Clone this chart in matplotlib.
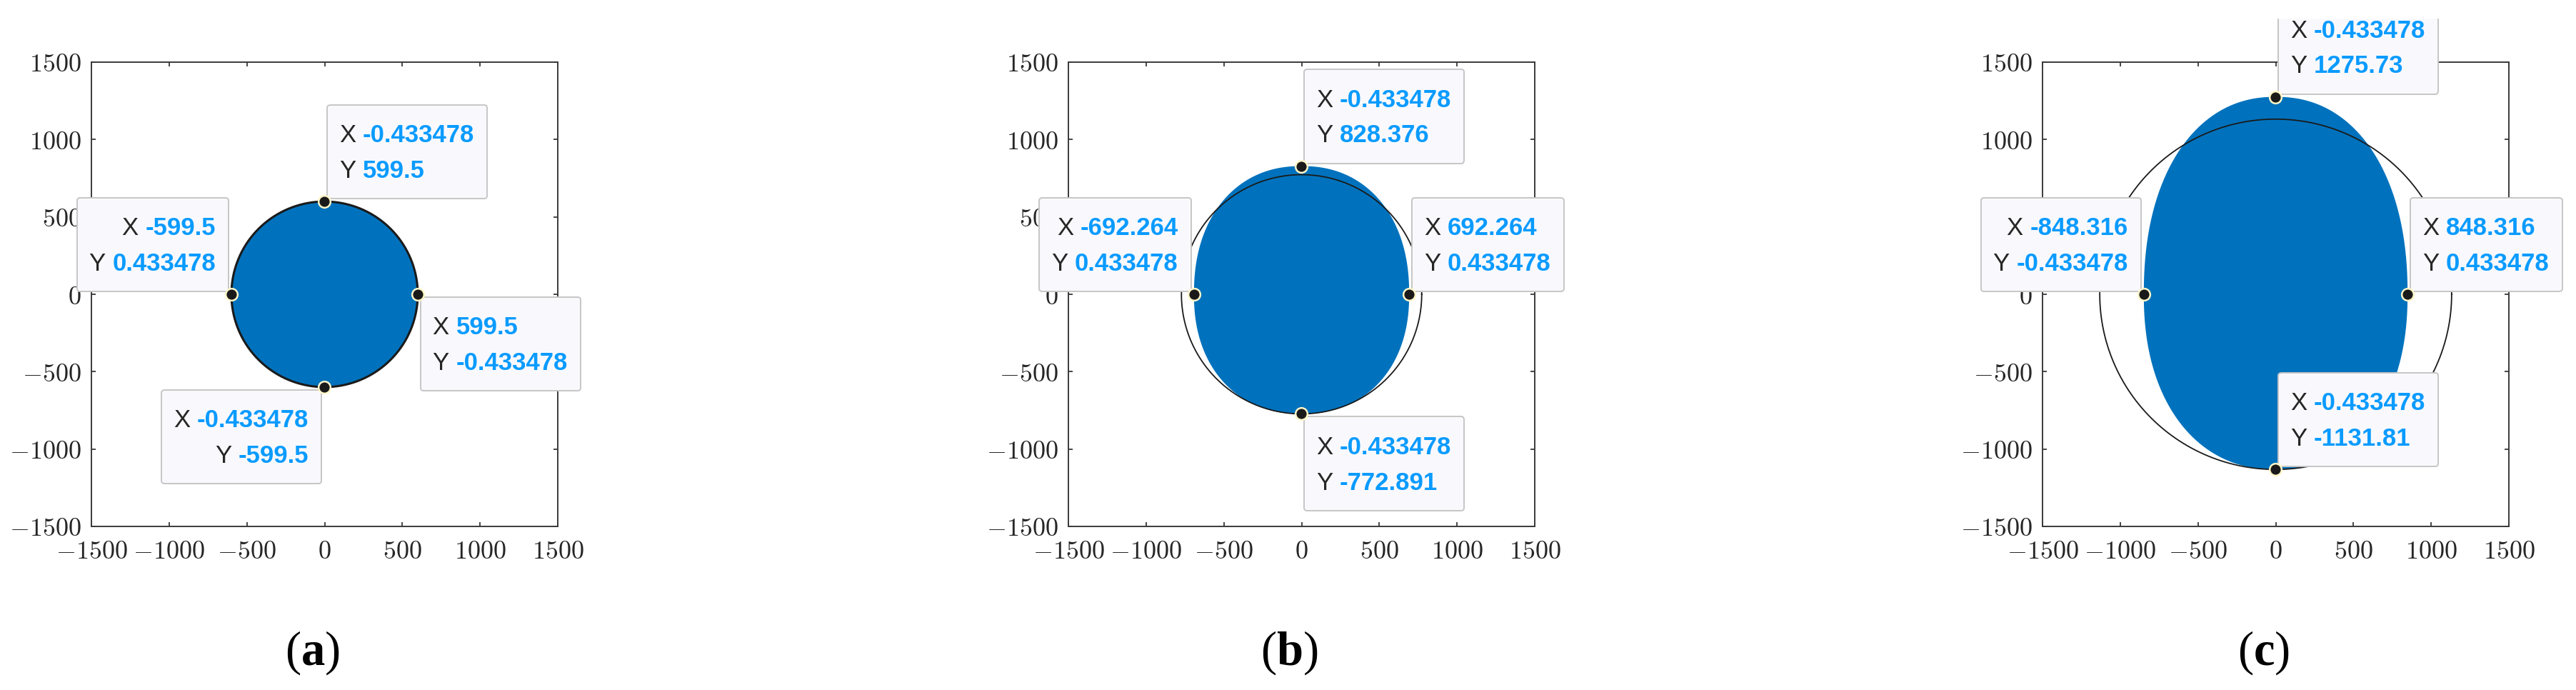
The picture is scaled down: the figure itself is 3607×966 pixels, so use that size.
import numpy as np
import matplotlib
matplotlib.use('Agg')
from matplotlib import pyplot as plt
from matplotlib.offsetbox import TextArea, HPacker, VPacker, AnnotationBbox, DrawingArea
from matplotlib.patches import Rectangle

plt.rcParams['mathtext.fontset'] = 'cm'
plt.rcParams['mathtext.rm'] = 'Liberation Serif'
plt.rcParams['mathtext.bf'] = 'Liberation Serif:bold'

# values
panel_labels = ['a', 'b', 'c']
circle_r = [599.5, 772.891, 1131.81]
shape_half_w = [599.5, 692.264, 848.316]
shape_top = [599.5, 828.376, 1275.73]
shape_bottom = [-599.5, -772.891, -1131.81]

# data tips per panel: top, left, right, bottom
tip_x = [[-0.433478, -599.5, 599.5, -0.433478],
         [-0.433478, -692.264, 692.264, -0.433478],
         [-0.433478, -848.316, 848.316, -0.433478]]
tip_y = [[599.5, 0.433478, -0.433478, -599.5],
         [828.376, 0.433478, 0.433478, -772.891],
         [1275.73, -0.433478, 0.433478, -1131.81]]

ticks = [-1500, -1000, -500, 0, 500, 1000, 1500]

# layout / style
W, H = 3607, 966
axes_left = [128, 1496, 2860]
ax_w, ax_top, ax_bot = 653, 87, 737
shape_exp = [2.0, 2.2, 2.2]
circle_lw = [2.2, 1.3, 1.3]
# which corner of the tip box sits on the point
tip_corner = [[(0, 0), (1, 0), (0, 1), (1, 1)],
              [(0, 0), (1, 0), (0, 0), (0, 1)],
              [(0, 0), (1, 0), (0, 0), (0, 0)]]

BLUE = '#0072BD'
TIP_BLUE = '#0A9BFF'
DARK = '#262626'
TIP_FS = 25


def add_tip(ax, x, y, corner):
    align = 'right' if corner[0] == 1 else 'left'
    rows = []
    for lab, val in (('X', x), ('Y', y)):
        rows.append(HPacker(children=[
            TextArea(lab, textprops=dict(color=DARK, size=TIP_FS, family='Liberation Sans')),
            TextArea(f'{val:g}', textprops=dict(color=TIP_BLUE, size=TIP_FS, weight='bold',
                                                 family='Liberation Sans'))],
            align='baseline', pad=0, sep=7))
    col = VPacker(children=[DrawingArea(0, 19), rows[0], DrawingArea(0, 12), rows[1],
                            DrawingArea(0, 16)], align=align, pad=0, sep=0)
    box = HPacker(children=[DrawingArea(12, 0), col, DrawingArea(13, 0)],
                  align='center', pad=0, sep=0)
    dx = 4 if corner[0] == 0 else -4
    dy = 4 if corner[1] == 0 else -4
    ab = AnnotationBbox(box, (x, y), xybox=(dx, dy), boxcoords='offset pixels',
                        box_alignment=corner, frameon=True, annotation_clip=False,
                        bboxprops=dict(boxstyle='round,pad=0,rounding_size=0.3',
                                       fc='#F9F9FD', ec='#C6C6C6', lw=1.4),
                        zorder=10)
    ax.add_artist(ab)


fig = plt.figure(figsize=(W / 100, H / 100), dpi=100)

t = np.linspace(0, 2 * np.pi, 721)
for i in range(3):
    ax = fig.add_axes([axes_left[i] / W, 1 - ax_bot / H, ax_w / W, (ax_bot - ax_top) / H])

    # deformed body
    c, s = np.cos(t), np.sin(t)
    p = 2 / shape_exp[i]
    sx = shape_half_w[i] * np.sign(c) * np.abs(c) ** p
    sy = np.where(s >= 0, shape_top[i], -shape_bottom[i]) * np.sign(s) * np.abs(s) ** p
    ax.fill(sx, sy, color=BLUE, lw=0, zorder=2)

    # reference circle
    ax.plot(circle_r[i] * c, circle_r[i] * s, color='#1A1A1A', lw=circle_lw[i], zorder=3)

    for j in range(4):
        add_tip(ax, tip_x[i][j], tip_y[i][j], tip_corner[i][j])
    ax.plot(tip_x[i], tip_y[i], 'o', ms=12, mfc='#1A1A1A', mec='#FFF6C8', mew=1.8,
            zorder=12, clip_on=False)

    ax.set_xlim(-1500, 1500)
    ax.set_ylim(-1500, 1500)
    labels = [f'${v}$' for v in ticks]
    ax.set_xticks(ticks, labels)
    ax.set_yticks(ticks, labels)
    ax.tick_params(direction='in', length=4, width=1.2, top=True, right=True,
                   labelsize=26, labelcolor=DARK, color=DARK)
    ax.tick_params(axis='x', pad=13)
    ax.tick_params(axis='y', pad=10)
    for sp in ax.spines.values():
        sp.set_color('#3A3A3A')
        sp.set_linewidth(1.4)

    cx = (axes_left[i] + ax_w / 2 - 17) / W
    fig.text(cx, 1 - 914 / H, f'($\\mathbf{{{panel_labels[i]}}}$)', ha='center', va='center',
             fontsize=48, family='Liberation Serif', math_fontfamily='custom', color='black')

# the top of the original figure is cut off
fig.add_artist(Rectangle((0, 1 - 25 / H), 1, 25 / H, transform=fig.transFigure,
                         color='white', zorder=100))

fig.savefig('out.png', dpi=100)
